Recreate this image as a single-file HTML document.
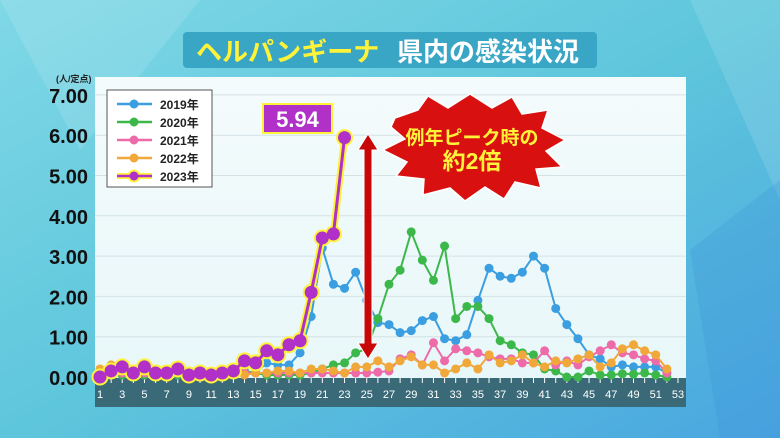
<!DOCTYPE html>
<html><head><meta charset="utf-8"><style>
body{margin:0;width:780px;height:438px;overflow:hidden;font-family:"Liberation Sans","Noto Sans CJK JP",sans-serif;}
</style></head><body>
<svg id="s" width="780" height="438" xmlns="http://www.w3.org/2000/svg">
<defs>
<linearGradient id="bg" x1="0" y1="0" x2="1" y2="1">
<stop offset="0" stop-color="#7fd8e6"/><stop offset="0.5" stop-color="#5ec6dc"/><stop offset="1" stop-color="#4aa6e0"/>
</linearGradient>
<linearGradient id="pn" x1="0" y1="0" x2="0" y2="1">
<stop offset="0" stop-color="#f4fbfc"/><stop offset="1" stop-color="#e8f7f9"/>
</linearGradient>
</defs>
<rect width="780" height="438" fill="url(#bg)"/>
<polygon points="0,0 200,0 80,150" fill="#ffffff" opacity="0.12"/>
<polygon points="690,0 780,0 780,200" fill="#ffffff" opacity="0.12"/>
<polygon points="690,250 780,180 780,438 720,438" fill="#3a8fd8" opacity="0.25"/>
<rect x="183" y="32" width="414" height="36" rx="4" fill="#3aa6c6"/>
<text x="196" y="61" font-size="26" font-weight="bold" fill="#fff33a">ヘルパンギーナ</text>
<text x="397" y="61" font-size="26" font-weight="bold" fill="#ffffff">県内の感染状況</text>
<rect x="95" y="77" width="591" height="302" fill="url(#pn)"/>
<rect x="95" y="378" width="591" height="29" fill="#3a6a78"/>
<text x="56" y="82" font-size="9" font-weight="bold" fill="#222">(人/定点)</text>
<g id="g"></g>
<rect x="107" y="90" width="105" height="97" fill="#fff" stroke="#555" stroke-width="1"/>
<g id="leg"></g>
<path d="M395,118 L418,110 L428,96 L448,108 L470,94 L492,108 L512,97 L522,114 L548,110 L542,128 L565,140 L546,151 L562,167 L536,169 L541,188 L515,182 L504,199 L485,187 L465,201 L450,188 L423,195 L424,179 L396,176 L407,162 L383,150 L405,139 L391,127 Z" fill="#d81010" stroke="#fff" stroke-width="1.5"/>
<text x="472" y="144" font-size="19" font-weight="bold" fill="#fff33a" text-anchor="middle">例年ピーク時の</text>
<text x="472" y="169" font-size="23" font-weight="bold" fill="#fff33a" text-anchor="middle">約2倍</text>
<rect x="263" y="104" width="69" height="29" fill="#b030c8" stroke="#fff33a" stroke-width="2"/>
<text x="297.5" y="127" font-size="22" font-weight="bold" fill="#fff" text-anchor="middle">5.94</text>
<polygon points="368,134 378,150 372,150 372,343 378,343 368,359 358,343 364,343 364,150 358,150" fill="#c80808" stroke="#fff" stroke-width="1"/>
</svg>
<script>
var X=w=>100+(w-1)*11.115, Y=v=>377-v*40.3;
var g=document.getElementById('g'),h='';
for(var i=1;i<=7;i++){h+='<line x1="95" x2="686" y1="'+Y(i)+'" y2="'+Y(i)+'" stroke="#d4e2e6" stroke-width="1"/>';}
for(var i=0;i<=7;i++){h+='<text x="88" y="'+(Y(i)+8)+'" font-size="20" font-weight="bold" fill="#111" text-anchor="end">'+i+'.00</text>';}
for(var w=1;w<=53;w++){h+='<line x1="'+X(w)+'" x2="'+X(w)+'" y1="378" y2="383" stroke="#fff" stroke-width="1"/>';if(w%2)h+='<text x="'+X(w)+'" y="398" font-size="11" fill="#fff" text-anchor="middle">'+w+'</text>';}
var D={
'#3a9ee0':[.05,.05,.05,.05,.05,.05,.05,.05,.05,.05,.05,.05,.05,.1,.1,.35,.3,.3,.6,1.5,3.2,2.3,2.2,2.6,1.9,1.35,1.3,1.1,1.15,1.4,1.5,.95,.9,1.05,1.9,2.7,2.5,2.45,2.6,3.0,2.7,1.7,1.3,.95,.55,.45,.25,.3,.25,.25,.25,.1],
'#3cb84a':[.05,.05,.05,.05,.05,.05,.05,.05,.05,.05,.05,.05,.05,.15,.1,.05,.05,.05,.05,.1,.2,.3,.35,.6,.7,1.45,2.3,2.65,3.6,2.9,2.4,3.25,1.45,1.75,1.75,1.45,.9,.8,.6,.55,.2,.15,0,0,.15,.05,.05,.08,.07,.1,.05,0],
'#ec6ba8':[.1,.1,.1,.1,.1,.1,.1,.1,.1,.1,.1,.1,.1,.1,.1,.1,.1,.1,.1,.1,.1,.1,.1,.1,.1,.12,.15,.45,.55,.3,.85,.4,.7,.65,.6,.5,.45,.45,.35,.35,.65,.3,.4,.3,.5,.65,.8,.6,.55,.45,.4,.1],
'#f0a83a':[.2,.3,.25,.15,.2,.1,.15,.1,.1,.1,.1,.1,.1,.05,.1,.1,.15,.15,.1,.2,.2,.15,.1,.25,.25,.4,.25,.4,.5,.3,.3,.1,.2,.35,.2,.55,.35,.4,.55,.35,.25,.4,.35,.45,.55,.25,.35,.7,.8,.65,.55,.2]};
for(var c in D){var p=D[c].map((v,i)=>X(i+1)+','+Y(v)).join(' ');h+='<polyline points="'+p+'" fill="none" stroke="'+c+'" stroke-width="2"/>';D[c].forEach((v,i)=>h+='<circle cx="'+X(i+1)+'" cy="'+Y(v)+'" r="4.5" fill="'+c+'"/>');}
var P=[0,.15,.25,.1,.25,.1,.1,.2,.05,.1,.05,.1,.15,.4,.35,.65,.55,.8,.9,2.1,3.45,3.55,5.94];
var pp=P.map((v,i)=>X(i+1)+','+Y(v)).join(' ');
h+='<polyline points="'+pp+'" fill="none" stroke="#fff33a" stroke-width="7" stroke-linejoin="round"/>';
P.forEach((v,i)=>h+='<circle cx="'+X(i+1)+'" cy="'+Y(v)+'" r="8.5" fill="#fff33a"/>');
h+='<polyline points="'+pp+'" fill="none" stroke="#b030c8" stroke-width="3"/>';
P.forEach((v,i)=>h+='<circle cx="'+X(i+1)+'" cy="'+Y(v)+'" r="6.5" fill="#b030c8"/>');
g.innerHTML=h;
var L=[['#3a9ee0','2019年'],['#3cb84a','2020年'],['#ec6ba8','2021年'],['#f0a83a','2022年'],['#b030c8','2023年']],lh='';
L.forEach((l,i)=>{var y=104+i*18;if(i==4)lh+='<line x1="117" x2="152" y1="'+y+'" y2="'+y+'" stroke="#fff33a" stroke-width="6"/><circle cx="134" cy="'+y+'" r="6.5" fill="#fff33a"/>';
lh+='<line x1="117" x2="152" y1="'+y+'" y2="'+y+'" stroke="'+l[0]+'" stroke-width="2.5"/><circle cx="134" cy="'+y+'" r="4.5" fill="'+l[0]+'"/><text x="160" y="'+(y+5)+'" font-size="12" font-weight="bold" fill="#222">'+l[1]+'</text>';});
document.getElementById('leg').innerHTML=lh;
</script>
</body></html>
